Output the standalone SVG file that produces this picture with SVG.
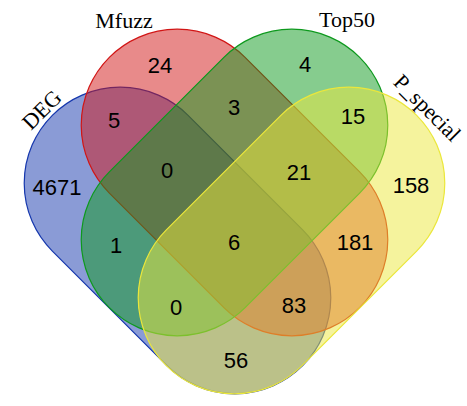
<svg xmlns="http://www.w3.org/2000/svg" width="467" height="406" viewBox="0 0 467 406">
<style>
.set{stroke-width:1.2}
.num{font-family:"Liberation Sans",Arial,sans-serif;font-size:22px;fill:#000;text-anchor:middle}
.lab{font-family:"Liberation Serif","Times New Roman",serif;font-size:22px;fill:#000;text-anchor:middle}
</style>
<rect width="467" height="406" fill="#fff"/>
<g id="sets">
<g id="DEG"><rect class="set" x="0.5" y="144.5" width="354" height="192" rx="96" transform="rotate(45 177.5 240.5)" fill="rgb(21,55,173)" fill-opacity="0.5" stroke="rgb(21,55,173)"/></g>
<g id="Mfuzz"><rect class="set" x="57.5" y="86.5" width="354" height="192" rx="96" transform="rotate(45 234.5 182.5)" fill="rgb(209,21,21)" fill-opacity="0.5" stroke="rgb(209,21,21)"/></g>
<g id="Top50"><rect class="set" x="57.5" y="86.5" width="354" height="192" rx="96" transform="rotate(-45 234.5 182.5)" fill="rgb(13,153,29)" fill-opacity="0.5" stroke="rgb(13,153,29)"/></g>
<g id="P_special"><rect class="set" x="114.5" y="144.5" width="354" height="192" rx="96" transform="rotate(-45 291.5 240.5)" fill="rgb(235,231,59)" fill-opacity="0.5" stroke="rgb(235,231,59)"/></g>
</g>
<g id="labels">
<text class="lab" x="124" y="28">Mfuzz</text>
<text class="lab" x="347" y="27">Top50</text>
<text class="lab" transform="translate(47 115) rotate(-45)">DEG</text>
<text class="lab" transform="translate(422 113) rotate(45)">P_special</text>
</g>
<g id="counts">
<text class="num" x="160" y="73">24</text>
<text class="num" x="305" y="72">4</text>
<text class="num" x="114" y="128">5</text>
<text class="num" x="234" y="115">3</text>
<text class="num" x="353" y="124">15</text>
<text class="num" x="57" y="195">4671</text>
<text class="num" x="167" y="178">0</text>
<text class="num" x="299" y="180">21</text>
<text class="num" x="411" y="193">158</text>
<text class="num" x="116" y="253">1</text>
<text class="num" x="234" y="250">6</text>
<text class="num" x="355" y="250">181</text>
<text class="num" x="176" y="315">0</text>
<text class="num" x="294" y="313">83</text>
<text class="num" x="236" y="368">56</text>
</g>
</svg>
